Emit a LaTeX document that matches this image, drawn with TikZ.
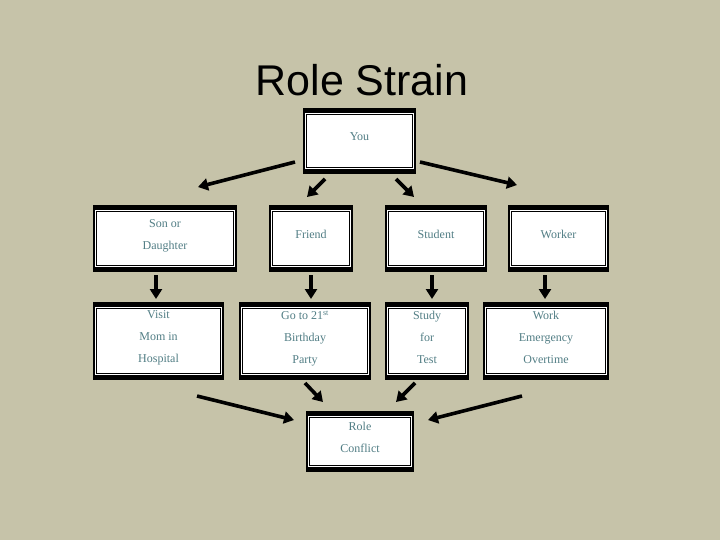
\documentclass[tikz,border=0pt]{standalone}
\usepackage{fontspec}
\setmainfont{Liberation Serif}
\newfontfamily\titlefont{Liberation Sans}
\usetikzlibrary{positioning,arrows.meta}

\definecolor{tapestry}{RGB}{198,195,169}
\definecolor{boxtext}{RGB}{82,126,133}

\begin{document}
\begin{tikzpicture}[
    x=1pt, y=-1pt,
    frame/.style={
        rectangle,
        draw=black,
        fill=white,
        line width=2pt,
        inner sep=0pt,
        text depth=8pt,
        align=center,
        text=boxtext,
        font=\fontsize{12}{22}\selectfont,
        path picture={
            \fill[black] (path picture bounding box.north west)
                rectangle ([yshift=-4pt]path picture bounding box.north east);
            \fill[black] (path picture bounding box.south west)
                rectangle ([yshift=4pt]path picture bounding box.south east);
            \draw[black, line width=1pt]
                ([shift={(2.5pt,-5.5pt)}]path picture bounding box.north west)
                rectangle ([shift={(-2.5pt,5.5pt)}]path picture bounding box.south east);
        }
    },
    arrow/.style={
        -{Triangle[length=10pt,width=12pt]},
        line width=3.6pt
    }
]

\useasboundingbox[fill=tapestry] (0,0) rectangle (720,540);

\node[anchor=base, font=\titlefont\fontsize{43}{48}\selectfont] (title) at (362,96) {Role Strain};

% top of the tree
\node[frame, minimum width=111pt, minimum height=64pt] (you) at (359.5,141) {You};

% roles
\node[frame, minimum width=142pt, minimum height=65pt] (son) at (165,238.5) {Son or\\Daughter};
\node[frame, minimum width=82pt, minimum height=65pt] (friend) at (311,238.5) {Friend};
\node[frame, minimum width=100pt, minimum height=65pt] (student) at (436,238.5) {Student};
\node[frame, minimum width=99pt, minimum height=65pt] (worker) at (558.5,238.5) {Worker};

% demands
\node[frame, minimum width=129pt, minimum height=76pt] (visit) at (158.5,341) {Visit\\Mom in\\Hospital};
\node[frame, minimum width=130pt, minimum height=76pt] (party) at (305,341) {Go to 21\textsuperscript{st}\\Birthday\\Party};
\node[frame, minimum width=82pt, minimum height=76pt] (study) at (427,341) {Study\\for\\Test};
\node[frame, minimum width=124pt, minimum height=76pt] (work) at (546,341) {Work\\Emergency\\Overtime};

\node[frame, minimum width=106pt, minimum height=59pt] (conflict) at (360,441.5) {Role\\Conflict};

% arrow ends
\coordinate (you-son-a) at (295,162);
\coordinate (you-son-b) at (198,187);
\coordinate (you-friend-a) at (325,179);
\coordinate (you-friend-b) at (307,197);
\coordinate (you-student-a) at (396,179);
\coordinate (you-student-b) at (414,197);
\coordinate (you-worker-a) at (420,162);
\coordinate (you-worker-b) at (517,185);

\coordinate (son-visit-a) at (156,275);
\coordinate (son-visit-b) at (156,299);
\coordinate (friend-party-a) at (311,275);
\coordinate (friend-party-b) at (311,299);
\coordinate (student-study-a) at (432,275);
\coordinate (student-study-b) at (432,299);
\coordinate (worker-work-a) at (545,275);
\coordinate (worker-work-b) at (545,299);

\coordinate (visit-conflict-a) at (197,396);
\coordinate (visit-conflict-b) at (294,420);
\coordinate (party-conflict-a) at (305,383);
\coordinate (party-conflict-b) at (323,402);
\coordinate (study-conflict-a) at (415,383);
\coordinate (study-conflict-b) at (396,402);
\coordinate (work-conflict-a) at (522,396);
\coordinate (work-conflict-b) at (428,420);

\draw[arrow] (you-son-a) -- (you-son-b);
\draw[arrow] (you-friend-a) -- (you-friend-b);
\draw[arrow] (you-student-a) -- (you-student-b);
\draw[arrow] (you-worker-a) -- (you-worker-b);

\draw[arrow] (son-visit-a) -- (son-visit-b);
\draw[arrow] (friend-party-a) -- (friend-party-b);
\draw[arrow] (student-study-a) -- (student-study-b);
\draw[arrow] (worker-work-a) -- (worker-work-b);

\draw[arrow] (visit-conflict-a) -- (visit-conflict-b);
\draw[arrow] (party-conflict-a) -- (party-conflict-b);
\draw[arrow] (study-conflict-a) -- (study-conflict-b);
\draw[arrow] (work-conflict-a) -- (work-conflict-b);

\end{tikzpicture}
\end{document}
